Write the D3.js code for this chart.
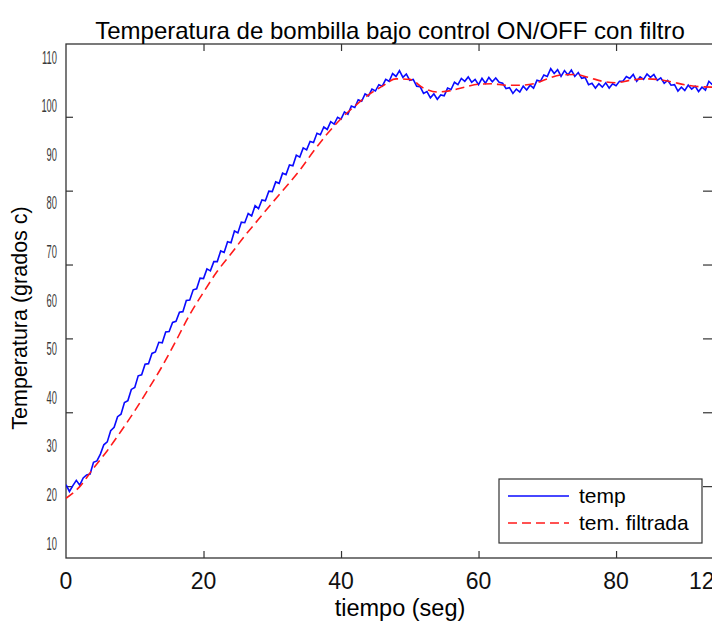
<!DOCTYPE html>
<meta charset="utf-8">
<style>
body { margin: 0; background: #fff; }
text { font-family: "Liberation Sans", Arial, sans-serif; }
.frame { fill: none; stroke: #333; stroke-width: 1.3; }
.axis path { display: none; }
.axis line { stroke: #333; stroke-width: 1.2; }
.ylab { fill: #3a3a3a; font-size: 18px; }
.xlab { fill: #111; font-size: 23px; }
</style>
<body>
<svg width="712" height="624"></svg>
<script src="https://d3js.org/d3.v7.min.js"></script>
<script>

var title = "Temperatura de bombilla bajo control ON/OFF con filtro",
    xTitle = "tiempo (seg)",
    yTitle = "Temperatura (grados c)";

var series = ["temp", "tem. filtrada"];

// labelled ticks (the image labels are pasted and do not sit on the tick marks)
var xTickLabels = [0, 20, 40, 60, 80],
    yTickLabels = [10, 20, 30, 40, 50, 60, 70, 80, 90, 100, 110],
    yTickMarks = [21.7, 36.9, 52.1, 67.3, 82.5, 97.7];

// temp, sampled every 0.5 s
var tempStep = 0.5;
var temp = [
  22.0, 20.6, 21.8, 22.9, 21.9, 23.4, 24.0, 24.2, 26.6, 26.9,
  28.3, 30.2, 30.8, 33.1, 33.8, 36.0, 36.5, 38.9, 39.3, 41.6,
  42.0, 44.4, 44.6, 46.8, 46.9, 49.0, 49.3, 51.3, 51.2, 53.4,
  53.5, 55.4, 55.6, 57.5, 57.6, 59.9, 60.0, 62.1, 62.3, 64.5,
  64.4, 66.4, 66.0, 67.9, 67.9, 70.1, 69.8, 72.0, 71.8, 74.2,
  73.8, 76.0, 75.9, 77.8, 77.3, 79.4, 78.8, 80.6, 80.4, 82.4,
  82.3, 84.3, 84.0, 86.1, 85.8, 87.8, 87.6, 89.8, 89.4, 91.3,
  90.9, 92.6, 92.4, 94.3, 94.0, 95.6, 95.1, 96.7, 96.2, 97.6,
  97.2, 98.7, 98.2, 99.9, 99.6, 101.2, 100.9, 102.4, 102.0, 103.4,
  103.0, 104.3, 104.0, 105.4, 105.0, 106.6, 106.0, 107.2, 105.8, 106.5,
  105.2, 105.4, 104.0, 103.9, 102.5, 102.9, 101.6, 102.4, 101.3, 102.2,
  102.0, 103.6, 103.3, 104.8, 104.3, 105.6, 105.0, 105.9, 104.8, 105.4,
  104.3, 105.6, 104.6, 105.8, 104.9, 105.7, 104.8, 104.6, 103.5, 103.7,
  102.5, 103.4, 102.8, 104.0, 103.2, 104.2, 103.6, 105.2, 105.0, 106.3,
  106.0, 107.6, 106.6, 107.4, 106.0, 107.2, 106.3, 107.3, 106.0, 106.8,
  105.6, 105.8, 104.3, 104.6, 103.6, 104.5, 103.8, 104.7, 103.6, 104.5,
  104.1, 105.0, 105.0, 106.0, 105.6, 106.4, 105.0, 105.9, 105.4, 106.5,
  105.8, 106.4, 105.2, 105.7, 104.6, 105.2, 104.2, 104.3, 103.0, 103.8,
  103.1, 104.2, 103.4, 104.0, 102.9, 103.8, 103.2, 105.0, 104.3
];

// tem. filtrada, sampled every 2 s
var filtStep = 2;
var filtrada = [
  19.2, 21.6, 25.4, 29.0, 33.0, 37.2, 41.7, 46.4, 51.6, 57.0,
  61.6, 65.9, 69.5, 73.2, 76.6, 80.0, 83.3, 86.7, 90.6, 94.2,
  97.3, 99.9, 102.2, 104.0, 105.5, 105.4, 103.6, 102.8, 103.1, 103.8,
  104.4, 104.5, 104.2, 104.2, 104.5, 105.5, 106.3, 106.4, 105.8, 105.0,
  104.7, 105.2, 105.5, 105.4, 104.9, 104.3, 103.9, 103.8
];

var svg = d3.select("svg"),
    margin = {top: 44, right: -1, bottom: 66, left: 66},
    width = +svg.attr("width") - margin.left - margin.right,
    height = +svg.attr("height") - margin.top - margin.bottom;

var x = d3.scaleLinear().domain([0, 94.1]).range([0, width]),
    y = d3.scaleLinear().domain([10, 110]).range([499, 13]);

var g = svg.append("g")
    .attr("transform", "translate(" + margin.left + "," + margin.top + ")");

g.append("rect")
    .attr("class", "frame")
    .attr("width", width)
    .attr("height", height);

// tick marks on all four sides
g.append("g").attr("class", "axis")
    .attr("transform", "translate(0," + height + ")")
    .call(d3.axisTop(x).tickValues(xTickLabels.slice(1)).tickSize(7).tickFormat(""));
g.append("g").attr("class", "axis")
    .call(d3.axisBottom(x).tickValues(xTickLabels.slice(1)).tickSize(7).tickFormat(""));
g.append("g").attr("class", "axis")
    .call(d3.axisRight(y).tickValues(yTickMarks).tickSize(7).tickFormat(""));
g.append("g").attr("class", "axis")
    .attr("transform", "translate(" + width + ",0)")
    .call(d3.axisLeft(y).tickValues(yTickMarks).tickSize(10).tickFormat(""));

// x tick labels
g.selectAll(".xlab")
    .data(xTickLabels)
  .enter().append("text")
    .attr("class", "xlab")
    .attr("x", function(d) { return x(d); })
    .attr("y", height + 31)
    .attr("text-anchor", "middle")
    .text(function(d) { return d; });

// the cropped "120" at the right edge
g.append("text")
    .attr("class", "xlab")
    .attr("x", x(93.4))
    .attr("y", height + 31)
    .attr("text-anchor", "middle")
    .text("120");

// y tick labels, narrow
g.selectAll(".ylab")
    .data(yTickLabels)
  .enter().append("text")
    .attr("class", "ylab")
    .attr("transform", function(d) { return "translate(-9," + (y(d) + 6.5) + ") scale(0.52,1)"; })
    .attr("text-anchor", "end")
    .text(function(d) { return d; });

var clip = g.append("clipPath").attr("id", "clip")
  .append("rect").attr("width", width).attr("height", height);

var lineTemp = d3.line()
    .x(function(d, i) { return x(i * tempStep); })
    .y(function(d) { return y(d); });

var lineFilt = d3.line()
    .curve(d3.curveMonotoneX)
    .x(function(d, i) { return x(i * filtStep); })
    .y(function(d) { return y(d); });

var plot = g.append("g").attr("clip-path", "url(#clip)");

plot.append("path")
    .datum(temp)
    .attr("fill", "none")
    .attr("stroke", "#0a0aff")
    .attr("stroke-width", 1.6)
    .attr("d", lineTemp);

plot.append("path")
    .datum(filtrada)
    .attr("fill", "none")
    .attr("stroke", "#ff1a1a")
    .attr("stroke-width", 1.6)
    .attr("stroke-dasharray", "9,5")
    .attr("d", lineFilt);

// legend
var legend = g.append("g")
    .attr("transform", "translate(" + (width - 214) + "," + (height - 79) + ")");

legend.append("rect")
    .attr("width", 203)
    .attr("height", 64)
    .attr("fill", "#fff")
    .attr("stroke", "#333")
    .attr("stroke-width", 1.2);

var item = legend.selectAll(".item")
    .data(series)
  .enter().append("g")
    .attr("transform", function(d, i) { return "translate(0," + (17 + i * 27) + ")"; });

item.append("line")
    .attr("x1", 9).attr("x2", 70)
    .attr("stroke", function(d, i) { return i ? "#ff1a1a" : "#0a0aff"; })
    .attr("stroke-width", 1.4)
    .attr("stroke-dasharray", function(d, i) { return i ? "9,5" : null; });

item.append("text")
    .attr("x", 80)
    .attr("dy", "0.35em")
    .style("font-size", "21px")
    .text(function(d) { return d; });

// titles
svg.append("text")
    .attr("x", 390)
    .attr("y", 39)
    .attr("text-anchor", "middle")
    .style("font-size", "24px")
    .text(title);

svg.append("text")
    .attr("x", 400)
    .attr("y", 616)
    .attr("text-anchor", "middle")
    .style("font-size", "23.5px")
    .text(xTitle);

svg.append("text")
    .attr("transform", "translate(27,318) rotate(-90)")
    .attr("text-anchor", "middle")
    .style("font-size", "21.5px")
    .text(yTitle);

</script>
</body>
